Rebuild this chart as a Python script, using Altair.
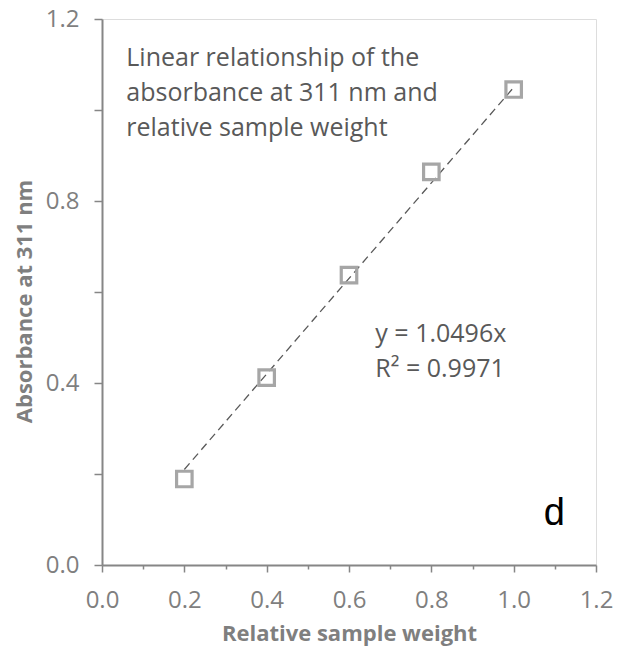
import altair as alt
import pandas as pd

# Data
weights = [0.2, 0.4, 0.6, 0.8, 1.0]
absorbance = [0.189, 0.412, 0.637, 0.864, 1.045]
slope = 1.0496
fit_x = [0.2, 1.0]

note_text = ["Linear relationship of the", "absorbance at 311 nm and", "relative sample weight"]
eq_text = ["y = 1.0496x", "R\u00b2 = 0.9971"]
panel_label = "d"

pts = pd.DataFrame({"w": weights, "a": absorbance})
fit = pd.DataFrame({"w": fit_x, "a": [slope * v for v in fit_x]})
notes = pd.DataFrame({
    "w": [0.059, 0.664, 1.099],
    "a": [1.0967, 0.4908, 0.088],
    "t": [note_text, eq_text, [panel_label]],
    "kind": ["note", "eq", "label"],
})

FONT = "Open Sans"
GRAY = "#7f7f7f"

xscale = alt.Scale(domain=[0, 1.2], nice=False, zero=False)
yscale = alt.Scale(domain=[0, 1.2], nice=False, zero=False)

xaxis = alt.Axis(
    values=[round(i * 0.1, 1) for i in range(13)],
    labelExpr="round(datum.value*10) % 2 == 0 ? format(datum.value, '.1f') : ''",
    tickSize={"condition": {"test": "round(datum.value*10) % 2 == 0", "value": 7}, "value": 4},
    tickColor="#868686", tickWidth=1.5,
    domainColor="#868686", domainWidth=2,
    labelFont=FONT, labelFontSize=24, labelColor=GRAY, labelPadding=16,
    labelFlush=False, labelOverlap=False, grid=False,
    title="Relative sample weight", titleFont=FONT, titleFontSize=22,
    titleFontWeight="bold", titleColor=GRAY,
    titleX=247, titleY=75, titleAnchor="middle", titleAlign="center", titleBaseline="alphabetic",
    zindex=1,
)
yaxis = alt.Axis(
    values=[round(i * 0.2, 1) for i in range(7)],
    labelExpr="round(datum.value*10) % 4 == 0 ? format(datum.value, '.1f') : ''",
    tickSize=8, tickColor="#868686", tickWidth=1.5,
    domainColor="#868686", domainWidth=2,
    labelFont=FONT, labelFontSize=24, labelColor=GRAY, labelPadding=15,
    labelFlush=False, labelOverlap=False, grid=False,
    title="Absorbance at 311 nm", titleFont=FONT, titleFontSize=22,
    titleFontWeight="bold", titleColor=GRAY,
    titleX=-78, titleY=282, titleAngle=-90, titleAlign="center", titleBaseline="middle",
    zindex=1,
)

base_x = alt.X("w:Q", scale=xscale, axis=xaxis)
base_y = alt.Y("a:Q", scale=yscale, axis=yaxis)

line = alt.Chart(fit).mark_line(
    color="#595959", strokeWidth=1.3, strokeDash=[8, 5], clip=True
).encode(x=base_x, y=base_y)

points = alt.Chart(pts).mark_point(
    shape="square", filled=False, color="#a6a6a6", strokeWidth=3.2, size=240, opacity=1
).encode(x="w:Q", y="a:Q")

note = alt.Chart(notes[notes.kind == "note"]).mark_text(
    font=FONT, fontSize=25, color="#595959", align="left", baseline="alphabetic", lineHeight=35
).encode(x="w:Q", y="a:Q", text="t")

eq = alt.Chart(notes[notes.kind == "eq"]).mark_text(
    font=FONT, fontSize=25, color="#595959", align="left", baseline="alphabetic", lineHeight=35
).encode(x="w:Q", y="a:Q", text="t")

lab = alt.Chart(notes[notes.kind == "label"]).mark_text(
    font="Liberation Sans", fontSize=38, color="#000000", align="center", baseline="alphabetic"
).encode(x="w:Q", y="a:Q", text="t")

chart = alt.layer(line, points, note, eq, lab).properties(
    width=494, height=546,
    autosize=alt.AutoSizeParams(type="none"),
    padding={"left": 102, "top": 19, "right": 26, "bottom": 83},
).configure_view(
    stroke="#000000", strokeWidth=1.5
).configure(background="white")

chart.save("out.html", embed_options={"renderer": "svg", "actions": False})
